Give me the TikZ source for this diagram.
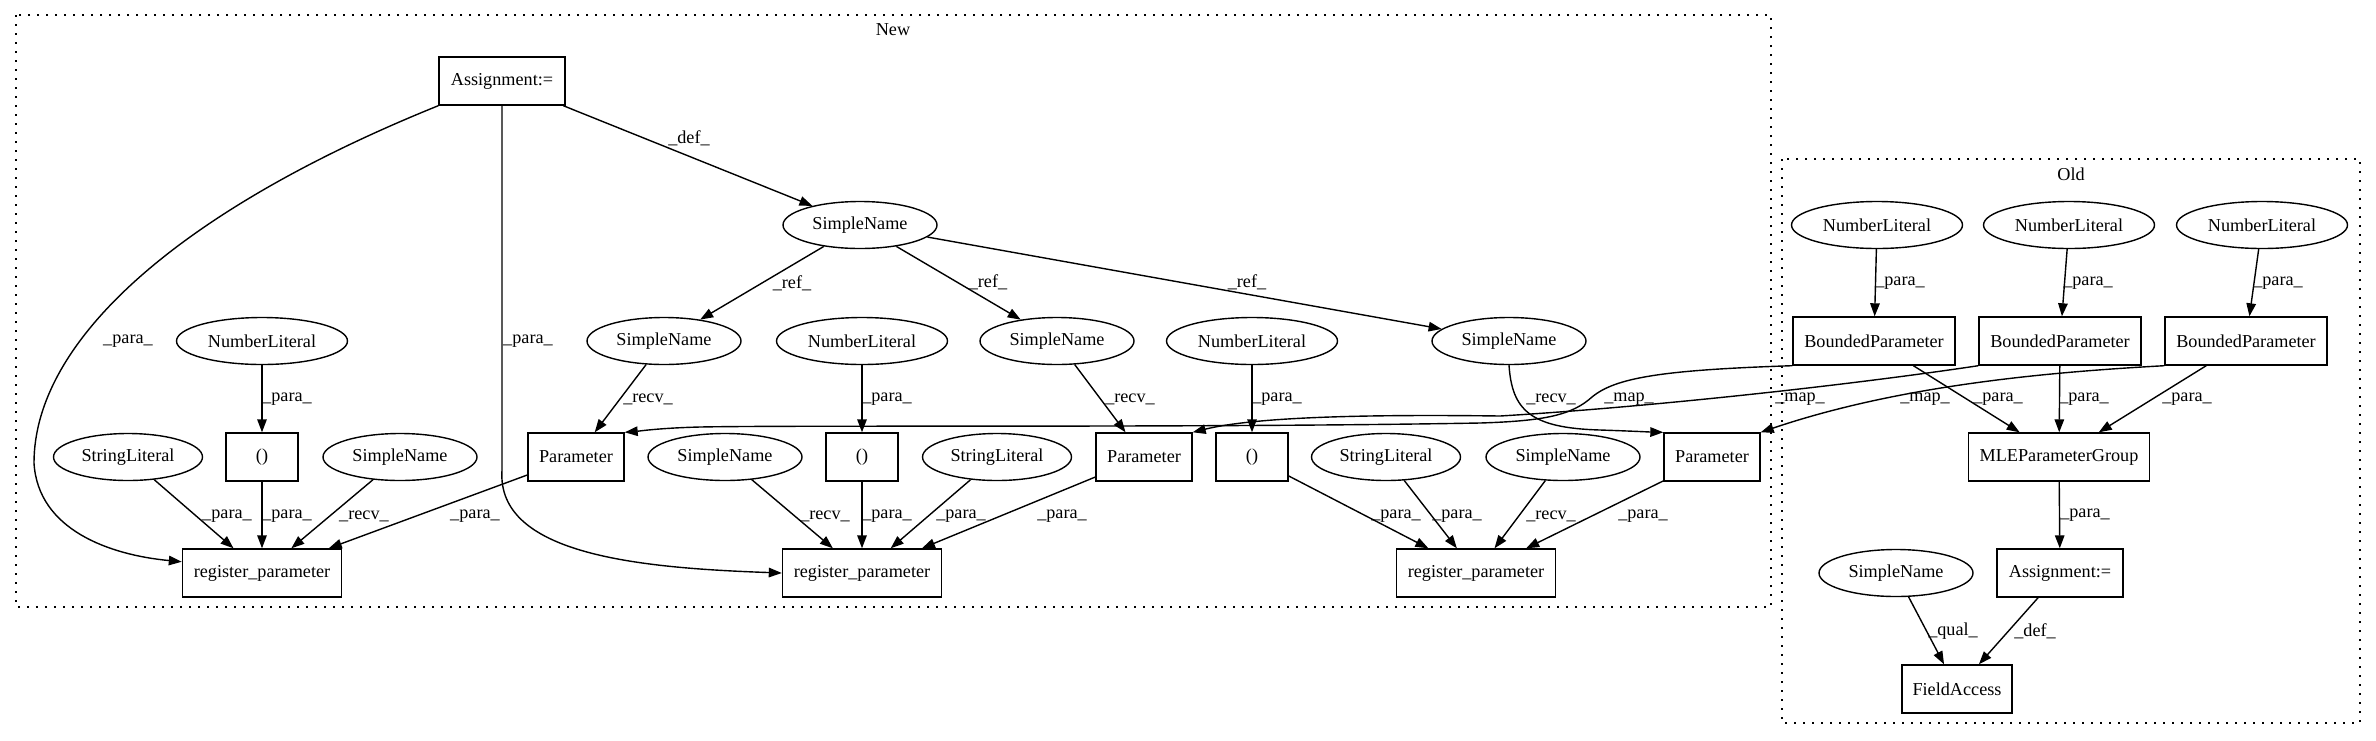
\documentclass[tikz,border=0pt]{standalone}
\usepackage{fontspec}
\setmainfont{Liberation Serif}
\usetikzlibrary{arrows.meta,shapes.geometric}
\newcommand\gvfont{\fontsize{18.2}{22}\selectfont}
\tikzset{
  gvbox/.style={draw, rectangle, line width=1.4pt, minimum height=48pt, inner sep=0pt, font=\gvfont},
  gvell/.style={draw, ellipse, line width=1.4pt, minimum height=47pt, inner sep=0pt, font=\gvfont},
  sname/.style={gvell, minimum width=154pt},
  nlit/.style={gvell, minimum width=171pt},
  slit/.style={gvell, minimum width=149pt},
  gvedge/.style={-{Triangle[length=13pt,width=9.5pt]}, line width=1.4pt},
  gvlab/.style={font=\gvfont, inner sep=0pt},
  gvcluster/.style={draw, line width=1.4pt, dash pattern=on 1.6pt off 7.4pt}
}
\begin{document}
\begin{tikzpicture}[x=1pt,y=-1pt]
\useasboundingbox (0,0) rectangle (2376,740);
% clusters
\draw[gvcluster] (16,15) rectangle (1771,607);
\node[gvlab] (newlbl) at (893,30) {New};
\draw[gvcluster] (1782,159) rectangle (2360,723);
\node[gvlab] (oldlbl) at (2071,174) {Old};

% ---- New nodes
\node[gvbox, minimum width=126pt] (nA) at (502,81) {Assignment:=};
\node[sname] (nS0) at (860,225) {SimpleName};
\node[nlit] (nNL1) at (262,341) {NumberLiteral};
\node[sname] (nS1) at (664,341) {SimpleName};
\node[nlit] (nNL2) at (862,341) {NumberLiteral};
\node[sname] (nS2) at (1057,341) {SimpleName};
\node[nlit] (nNL3) at (1252,341) {NumberLiteral};
\node[sname] (nS3) at (1509,341) {SimpleName};

\node[slit] (nStr1) at (128,457) {StringLiteral};
\node[gvbox, minimum width=72pt] (nP1) at (262,457) {()};
\node[sname] (nSN1) at (400,457) {SimpleName};
\node[gvbox, minimum width=96pt] (nPar1) at (576,457) {Parameter};
\node[sname] (nSN2) at (725,457) {SimpleName};
\node[gvbox, minimum width=72pt] (nP2) at (862,457) {()};
\node[slit] (nStr2) at (997,457) {StringLiteral};
\node[gvbox, minimum width=96pt] (nPar2) at (1144,457) {Parameter};
\node[gvbox, minimum width=72pt] (nP3) at (1252,457) {()};
\node[slit] (nStr3) at (1386,457) {StringLiteral};
\node[sname] (nSN3) at (1563,457) {SimpleName};
\node[gvbox, minimum width=96pt] (nPar3) at (1712,457) {Parameter};

\node[gvbox, minimum width=159pt] (nR1) at (262,573) {register\_parameter};
\node[gvbox, minimum width=159pt] (nR2) at (862,573) {register\_parameter};
\node[gvbox, minimum width=159pt] (nR3) at (1476,573) {register\_parameter};

% ---- Old nodes
\node[nlit] (oNL1) at (1877,225) {NumberLiteral};
\node[nlit] (oNL2) at (2069,225) {NumberLiteral};
\node[nlit] (oNL3) at (2262,225) {NumberLiteral};
\node[gvbox, minimum width=162pt] (oBP1) at (1874,341) {BoundedParameter};
\node[gvbox, minimum width=162pt] (oBP2) at (2060,341) {BoundedParameter};
\node[gvbox, minimum width=162pt] (oBP3) at (2246,341) {BoundedParameter};
\node[gvbox, minimum width=181pt] (oMLE) at (2059,457) {MLEParameterGroup};
\node[sname] (oSN) at (1896,573) {SimpleName};
\node[gvbox, minimum width=126pt] (oA) at (2060,573) {Assignment:=};
\node[gvbox, minimum width=110pt] (oFA) at (1957,689) {FieldAccess};

% ---- New edges
\draw[gvedge] (nA.south west) .. controls (180,210) and (34,340) .. (34,463)
   .. controls (38,530) and (110,555) .. (nR1.172);
\draw[gvedge] (nA.south) -- (502,470) .. controls (496,555) and (640,568) .. (nR2.west);
\draw[gvedge] (nA) -- (nS0);
\draw[gvedge] (nS0) -- (nS1);
\draw[gvedge] (nS0) -- (nS2);
\draw[gvedge] (nS0) -- (nS3);
\draw[gvedge] (nNL1) -- (nP1);
\draw[gvedge] (nS1) -- (nPar1);
\draw[gvedge] (nNL2) -- (nP2);
\draw[gvedge] (nS2) -- (nPar2);
\draw[gvedge] (nNL3) -- (nP3);
\draw[gvedge] (nS3.south) .. controls (1512,410) and (1530,428) .. (1600,430)
   .. controls (1630,431) and (1650,432) .. (nPar3.north west);
\draw[gvedge] (nStr1) -- (nR1);
\draw[gvedge] (nP1) -- (nR1);
\draw[gvedge] (nSN1) -- (nR1);
\draw[gvedge] (nPar1) -- (nR1);
\draw[gvedge] (nSN2) -- (nR2);
\draw[gvedge] (nP2) -- (nR2);
\draw[gvedge] (nStr2) -- (nR2);
\draw[gvedge] (nPar2) -- (nR2);
\draw[gvedge] (nP3) -- (nR3);
\draw[gvedge] (nStr3) -- (nR3);
\draw[gvedge] (nSN3) -- (nR3);
\draw[gvedge] (nPar3) -- (nR3);

% ---- map edges
\draw[gvedge] (oBP1.south west) .. controls (1660,370) and (1615,378) .. (1592,397)
   .. controls (1572,415) and (1545,421) .. (1480,423)
   .. controls (1200,428) and (800,425) .. (700,427)
   .. controls (660,428) and (640,431) .. (nPar1.north east);
\draw[gvedge] (oBP2.south west) .. controls (1850,385) and (1650,407) .. (1500,416)
   .. controls (1350,414) and (1250,418) .. (nPar2.north east);
\draw[gvedge] (oBP3.south west) .. controls (2050,372) and (1900,385) .. (nPar3.north east);

% ---- Old edges
\draw[gvedge] (oNL1) -- (oBP1);
\draw[gvedge] (oNL2) -- (oBP2);
\draw[gvedge] (oNL3) -- (oBP3);
\draw[gvedge] (oBP1) -- (oMLE);
\draw[gvedge] (oBP2) -- (oMLE);
\draw[gvedge] (oBP3) -- (oMLE);
\draw[gvedge] (oMLE) -- (oA);
\draw[gvedge] (oSN) -- (oFA);
\draw[gvedge] (oA) -- (oFA);

% ---- edge labels
\node[gvlab] (l1) at (128,341) {\_para\_};
\node[gvlab] (l2) at (528,341) {\_para\_};
\node[gvlab] (l3) at (689,138) {\_def\_};
\node[gvlab] (l4) at (792,283) {\_ref\_};
\node[gvlab] (l5) at (988,282) {\_ref\_};
\node[gvlab] (l6) at (1247,282) {\_ref\_};
\node[gvlab] (l7) at (287,399) {\_para\_};
\node[gvlab] (l8) at (648,399) {\_recv\_};
\node[gvlab] (l9) at (887,399) {\_para\_};
\node[gvlab] (l10) at (1130,399) {\_recv\_};
\node[gvlab] (l11) at (1277,399) {\_para\_};
\node[gvlab] (l12) at (1551,399) {\_recv\_};
\node[gvlab] (l13) at (1629,399) {\_map\_};
\node[gvlab] (l14) at (1800,399) {\_map\_};
\node[gvlab] (l15) at (1925,399) {\_map\_};
\node[gvlab] (l16) at (227,516) {\_para\_};
\node[gvlab] (l17) at (287,516) {\_para\_};
\node[gvlab] (l18) at (364,516) {\_recv\_};
\node[gvlab] (l19) at (475,516) {\_para\_};
\node[gvlab] (l20) at (825,516) {\_recv\_};
\node[gvlab] (l21) at (887,516) {\_para\_};
\node[gvlab] (l22) at (961,516) {\_para\_};
\node[gvlab] (l23) at (1062,516) {\_para\_};
\node[gvlab] (l24) at (1396,516) {\_para\_};
\node[gvlab] (l25) at (1457,516) {\_para\_};
\node[gvlab] (l26) at (1551,516) {\_recv\_};
\node[gvlab] (l27) at (1643,516) {\_para\_};
\node[gvlab] (l28) at (1900,283) {\_para\_};
\node[gvlab] (l29) at (2088,283) {\_para\_};
\node[gvlab] (l30) at (2278,283) {\_para\_};
\node[gvlab] (l31) at (1998,399) {\_para\_};
\node[gvlab] (l32) at (2084,399) {\_para\_};
\node[gvlab] (l33) at (2187,399) {\_para\_};
\node[gvlab] (l34) at (2085,515) {\_para\_};
\node[gvlab] (l35) at (1953,631) {\_qual\_};
\node[gvlab] (l36) at (2035,631) {\_def\_};
\end{tikzpicture}
\end{document}
